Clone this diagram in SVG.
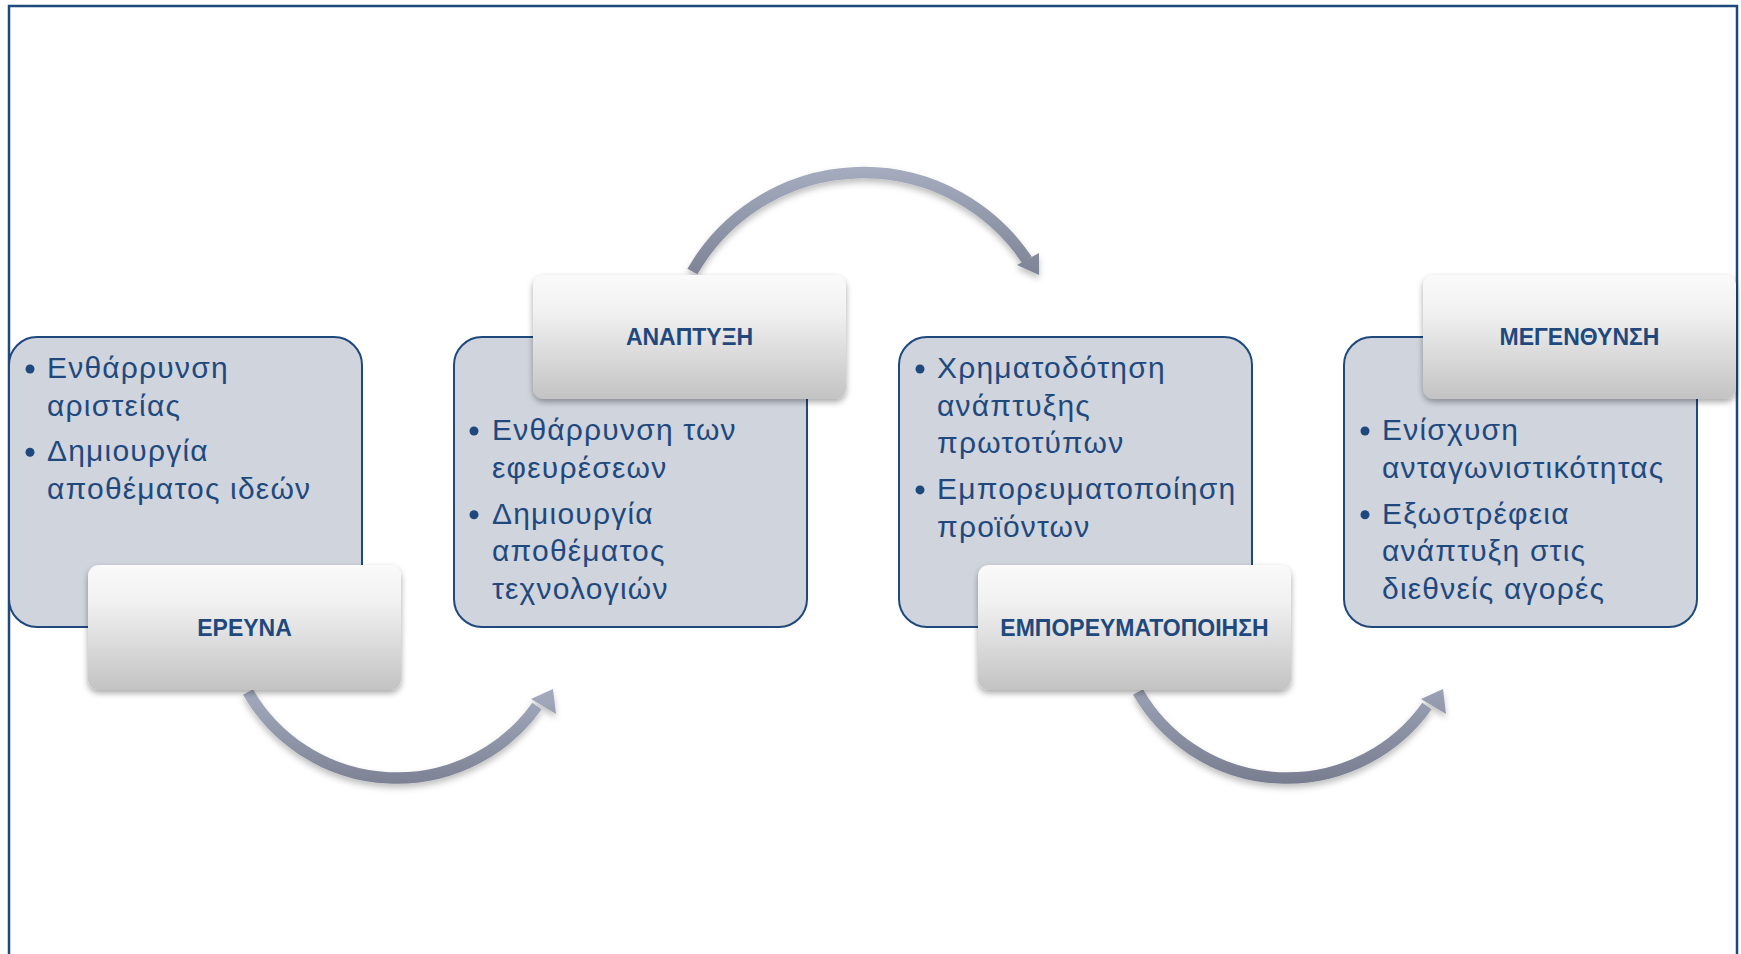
<svg xmlns="http://www.w3.org/2000/svg" width="1741" height="954" viewBox="0 0 1741 954">
<defs>
<style>
.frame{fill:none;stroke:#1F497D;stroke-width:2.5}
.box{fill:#D0D4DD;stroke:#1F497D;stroke-width:2}
.lab{fill:url(#labGrad);filter:url(#sh)}
.lt{font-family:"Liberation Sans",Arial,sans-serif;font-weight:bold;font-size:23px;fill:#1F497D;text-anchor:middle}
.bt{font-family:"Liberation Sans",Arial,sans-serif;font-size:30px;letter-spacing:1.2px;fill:#1F497D}
.dot{fill:#1F497D}
.shaft{fill:none;stroke-width:11.5}
</style>
<linearGradient id="labGrad" x1="0" y1="0" x2="0" y2="1">
<stop offset="0" stop-color="#FAFAFA"/>
<stop offset="0.3" stop-color="#F1F1F1"/>
<stop offset="1" stop-color="#C3C3C3"/>
</linearGradient>
<linearGradient id="ag1" gradientUnits="userSpaceOnUse" x1="0" y1="685" x2="0" y2="785">
<stop offset="0" stop-color="#A6ADC0"/>
<stop offset="1" stop-color="#7C8294"/>
</linearGradient>
<linearGradient id="ag2" gradientUnits="userSpaceOnUse" x1="0" y1="165" x2="0" y2="280">
<stop offset="0" stop-color="#A6ADC0"/>
<stop offset="1" stop-color="#7C8294"/>
</linearGradient>
<linearGradient id="ag3" gradientUnits="userSpaceOnUse" x1="0" y1="685" x2="0" y2="785">
<stop offset="0" stop-color="#9DA3B6"/>
<stop offset="1" stop-color="#777D8F"/>
</linearGradient>
<filter id="sh" x="-10%" y="-10%" width="120%" height="130%">
<feDropShadow dx="0" dy="3" stdDeviation="3" flood-color="#000" flood-opacity="0.35"/>
</filter>
<filter id="ash" x="-10%" y="-20%" width="120%" height="150%">
<feDropShadow dx="0" dy="4" stdDeviation="3" flood-color="#000" flood-opacity="0.25"/>
</filter>
</defs>
<rect width="1741" height="954" fill="#FFFFFF"/>
<path class="frame" d="M9,960 V6 H1737 V960"/>

<g id="connectors">
<g id="arrow1" filter="url(#ash)">
<path class="shaft" stroke="url(#ag1)" d="M248,692 A172,172 0 0 0 537,706"/>
<polygon fill="url(#ag1)" points="531,699 553,689 556,714"/>
</g>
<g id="arrow2" filter="url(#ash)">
<path class="shaft" stroke="url(#ag2)" d="M692.4,271.5 A197,197 0 0 1 1027,260"/>
<polygon fill="url(#ag2)" points="1017,265 1039,253 1039,275"/>
</g>
<g id="arrow3" filter="url(#ash)">
<path class="shaft" stroke="url(#ag3)" d="M1138,692 A172,172 0 0 0 1427,706"/>
<polygon fill="url(#ag3)" points="1421,699 1443,689 1446,714"/>
</g>
</g>

<g id="node1">
<rect class="box" x="9" y="337" width="353" height="290" rx="28"/>
<circle class="dot" cx="30" cy="369" r="4.5"/>
<text class="bt" x="47" y="378">Ενθάρρυνση</text>
<text class="bt" x="47" y="415.7">αριστείας</text>
<circle class="dot" cx="30" cy="452.2" r="4.5"/>
<text class="bt" x="47" y="461.2">Δημιουργία</text>
<text class="bt" x="47" y="498.9">αποθέματος ιδεών</text>
<rect class="lab" x="88" y="565" width="313" height="125" rx="11"/>
<text class="lt" x="244.5" y="636">ΕΡΕΥΝΑ</text>
</g>

<g id="node2">
<rect class="box" x="454" y="337" width="353" height="290" rx="28"/>
<circle class="dot" cx="474" cy="431" r="4.5"/>
<text class="bt" x="492" y="440">Ενθάρρυνση των</text>
<text class="bt" x="492" y="477.7">εφευρέσεων</text>
<circle class="dot" cx="474" cy="514.7" r="4.5"/>
<text class="bt" x="492" y="523.7">Δημιουργία</text>
<text class="bt" x="492" y="561.4">αποθέματος</text>
<text class="bt" x="492" y="599.1">τεχνολογιών</text>
<rect class="lab" x="533" y="275" width="313" height="124" rx="11"/>
<text class="lt" x="689.5" y="345">ΑΝΑΠΤΥΞΗ</text>
</g>

<g id="node3">
<rect class="box" x="899" y="337" width="353" height="290" rx="28"/>
<circle class="dot" cx="920" cy="369" r="4.5"/>
<text class="bt" x="937" y="378">Χρηματοδότηση</text>
<text class="bt" x="937" y="415.7">ανάπτυξης</text>
<text class="bt" x="937" y="453.4">πρωτοτύπων</text>
<circle class="dot" cx="920" cy="489.9" r="4.5"/>
<text class="bt" x="937" y="498.9">Εμπορευματοποίηση</text>
<text class="bt" x="937" y="536.6">προϊόντων</text>
<rect class="lab" x="978" y="565" width="313" height="125" rx="11"/>
<text class="lt" x="1134.5" y="636">ΕΜΠΟΡΕΥΜΑΤΟΠΟΙΗΣΗ</text>
</g>

<g id="node4">
<rect class="box" x="1344" y="337" width="353" height="290" rx="28"/>
<circle class="dot" cx="1365" cy="431" r="4.5"/>
<text class="bt" x="1382" y="440">Ενίσχυση</text>
<text class="bt" x="1382" y="477.7">ανταγωνιστικότητας</text>
<circle class="dot" cx="1365" cy="514.7" r="4.5"/>
<text class="bt" x="1382" y="523.7">Εξωστρέφεια</text>
<text class="bt" x="1382" y="561.4">ανάπτυξη στις</text>
<text class="bt" x="1382" y="599.1">διεθνείς αγορές</text>
<rect class="lab" x="1423" y="275" width="313" height="124" rx="11"/>
<text class="lt" x="1579.5" y="345">ΜΕΓΕΝΘΥΝΣΗ</text>
</g>
</svg>
